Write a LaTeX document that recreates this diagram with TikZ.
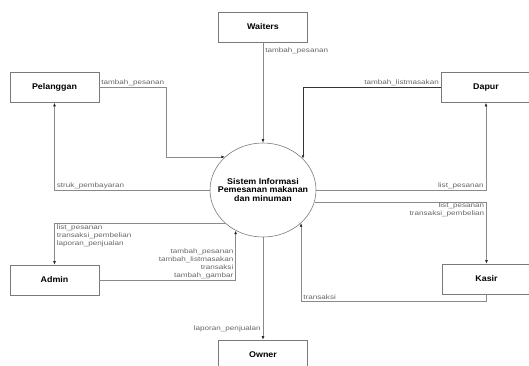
\documentclass[tikz,border=0pt]{standalone}
\usepackage{fontspec}
\setmainfont{Liberation Sans}
\newfontfamily\boxfont[FakeStretch=1.07]{Liberation Sans}
\newfontfamily\lblfont[FakeStretch=1.25]{Liberation Sans}
\usetikzlibrary{arrows.meta, positioning, shapes.geometric}
\definecolor{linegray}{HTML}{8A8A8A}
\definecolor{boxedge}{HTML}{7A7A7A}
\definecolor{lbltext}{HTML}{666666}
\definecolor{tipdark}{HTML}{2A2A2A}
\tikzset{
  ent/.style={draw=boxedge, line width=0.6pt, minimum width=89pt, minimum height=30pt,
              inner sep=0pt, font=\boxfont\bfseries\fontsize{8.3}{8.5}\selectfont},
  proc/.style={ellipse, draw=boxedge, line width=0.6pt, minimum width=106pt, minimum height=94pt,
               inner xsep=-16pt, inner ysep=0pt, align=center,
               font=\boxfont\bfseries\fontsize{8.3}{8.5}\selectfont},
  flow/.style={-{Latex[length=3.5pt,width=2.8pt,color=tipdark]}, line width=0.6pt, draw=linegray},
  lbl/.style={font=\lblfont\fontsize{6.5}{8}\selectfont, text=lbltext, inner sep=1pt},
}

\begin{document}
\begin{tikzpicture}[x=1pt, y=1pt]
  \useasboundingbox (0,0) rectangle (529,-365);
  % entitas luar
  \node[ent] (waiters) at (263,-27) {Waiters};
  \node[ent] (pelanggan) at (54.5,-87.5) {Pelanggan};
  \node[ent] (dapur) at (486,-87.5) {Dapur};
  \node[ent] (admin) at (54.5,-280) {Admin};
  \node[ent] (kasir) at (486.5,-279) {Kasir};
  \node[ent] (owner) at (263,-355) {Owner};
  % proses
  \node[proc] (sistem) at (263,-190) {Sistem Informasi\\Pemesanan makanan\\dan minuman};

  % aliran data
  \draw[flow] (waiters) -- node[lbl, pos=0.08, anchor=west, xshift=1pt] {tambah\_pesanan} (sistem);
  \draw[flow] (pelanggan.east) -- node[lbl, midway, above] {tambah\_pesanan} ++(67,0) |- (sistem.139);
  \draw[flow] (sistem.west) -| node[lbl, pos=0.5, anchor=south west, xshift=1pt] {struk\_pembayaran} (pelanggan.south);
  \draw[flow, draw=black!80, line width=0.8pt] (dapur.west) -| node[lbl, pos=0, anchor=south east, xshift=-1pt] {tambah\_listmasakan} (sistem.38);
  \draw[flow] (sistem.east) -| node[lbl, pos=0.5, anchor=south east, xshift=-1pt] {list\_pesanan} (dapur.south);
  \draw[flow] (sistem.-13) -| node[lbl, pos=0.5, anchor=north east, xshift=-1pt, align=right] {list\_pesanan\\transaksi\_pembelian} (kasir.north);
  \draw[flow] (kasir.south) -- ++(0,-7) -| node[lbl, pos=0.5, anchor=south west, xshift=1pt] {transaksi} (sistem.-41);
  \draw[flow] (sistem.221) -| node[lbl, pos=0.5, anchor=north west, xshift=1pt, align=left] {list\_pesanan\\transaksi\_pembelian\\laporan\_penjualan} (admin.north);
  \draw[flow] (admin.east) -| node[lbl, pos=0.5, anchor=south east, xshift=-1pt, align=right] {tambah\_pesanan\\tambah\_listmasakan\\transaksi\\tambah\_gambar} (sistem.236);
  \draw[flow] (sistem) -- node[lbl, pos=0.94, anchor=south east, xshift=-1pt] {laporan\_penjualan} (owner);
\end{tikzpicture}
\end{document}
